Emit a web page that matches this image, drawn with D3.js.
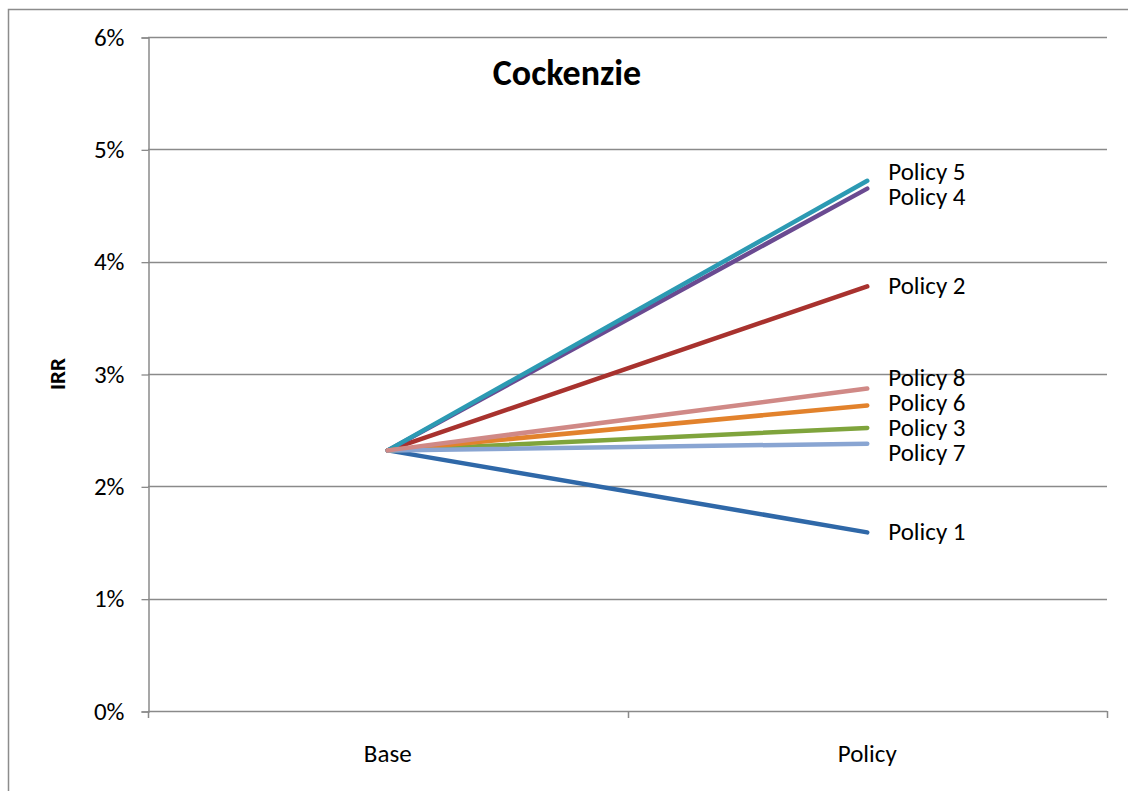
<!DOCTYPE html>
<html>
<head>
<meta charset="utf-8">
<script src="https://cdn.jsdelivr.net/npm/d3@7"></script>
<style>
  html, body { margin: 0; padding: 0; background: #fff; }
  svg { display: block; font-family: Carlito, Calibri, Lato, "Open Sans", sans-serif; }
</style>
</head>
<body>
<svg id="chart" width="1128" height="791"></svg>
<script>
// Scenario categories on the x axis
const categories = ["Base", "Policy"];

// Internal rate of return (%) per policy, base vs. policy case
const seriesNames = ["Policy 1", "Policy 2", "Policy 3", "Policy 4", "Policy 5", "Policy 6", "Policy 7", "Policy 8"];
const baseValues   = [2.32, 2.32, 2.32, 2.32, 2.32, 2.32, 2.32, 2.32];
const policyValues = [1.59, 3.78, 2.52, 4.65, 4.72, 2.72, 2.38, 2.87];

// Y-axis ticks (%)
const yTicks = [0, 1, 2, 3, 4, 5, 6];

const colors = ["#2f68a8", "#a8322e", "#7fa43c", "#6a4a91", "#2c9ab3", "#e2822c", "#89a5d2", "#d08986"];

const FONT = "Carlito, Calibri, Lato, sans-serif";
const svg = d3.select("#chart");
const W = 1128, H = 791;
const plot = { left: 148, right: 1107, top: 37, bottom: 711 };

// Chart frame
svg.append("path")
  .attr("d", `M8.5,${H} V9.5 H${W}`)
  .attr("fill", "none").attr("stroke", "#8c8c8c").attr("stroke-width", 1.5);

const y = d3.scaleLinear().domain([0, 6]).range([plot.bottom, plot.top]);
const band = d3.scaleBand().domain(categories).range([plot.left, plot.right]);
const x = d3.scalePoint().domain(categories).range([plot.left, plot.right]).padding(0.5);

// Horizontal gridlines
svg.append("g").selectAll("line").data(yTicks.filter(d => d > 0)).join("line")
  .attr("x1", plot.left).attr("x2", plot.right)
  .attr("y1", d => Math.round(y(d)) + 0.5).attr("y2", d => Math.round(y(d)) + 0.5)
  .attr("stroke", "#8a8a8a").attr("stroke-width", 1.3);

// Y axis
const yAxis = d3.axisLeft(y).tickValues(yTicks).tickFormat(d => d + "%").tickSize(7).tickPadding(17);
const gy = svg.append("g").attr("transform", `translate(${plot.left + 0.5},0.5)`).call(yAxis);
gy.attr("font-size", null).attr("font-family", null);
gy.select(".domain").attr("stroke", "#8a8a8a").attr("stroke-width", 1.5);
gy.selectAll(".tick line").attr("stroke", "#8a8a8a").attr("stroke-width", 1.3);
gy.selectAll(".tick text").attr("font-size", 25).attr("fill", "#000")
  .attr("font-family", FONT).attr("dy", "0.3em");

// X axis: baseline with tick marks on category boundaries
svg.append("line")
  .attr("x1", plot.left).attr("x2", plot.right)
  .attr("y1", plot.bottom + 0.5).attr("y2", plot.bottom + 0.5)
  .attr("stroke", "#8a8a8a").attr("stroke-width", 1.5);
const boundaries = categories.map(c => band(c)).concat([band(categories[categories.length - 1]) + band.bandwidth()]);
svg.append("g").selectAll("line").data(boundaries).join("line")
  .attr("x1", d => Math.round(d) + 0.5).attr("x2", d => Math.round(d) + 0.5)
  .attr("y1", plot.bottom).attr("y2", plot.bottom + 7)
  .attr("stroke", "#8a8a8a").attr("stroke-width", 1.5);
svg.append("g").selectAll("text").data(categories).join("text")
  .attr("x", d => x(d)).attr("y", 762)
  .attr("text-anchor", "middle").attr("font-size", 25).attr("fill", "#000")
  .text(d => d);

// Series lines
const series = seriesNames.map((name, i) => ({
  name, color: colors[i],
  values: [ { cat: categories[0], v: baseValues[i] }, { cat: categories[1], v: policyValues[i] } ]
}));
const line = d3.line().x(d => x(d.cat)).y(d => y(d.v));
svg.append("g").selectAll("path").data(series).join("path")
  .attr("d", d => line(d.values))
  .attr("fill", "none").attr("stroke", d => d.color)
  .attr("stroke-width", 4.5).attr("stroke-linecap", "round");

// End-of-line labels, spread apart so they don't overlap
const minGap = 25;
const labels = series.map(s => ({ name: s.name, target: y(s.values[1].v) }))
  .sort((a, b) => a.target - b.target);
labels.forEach(l => l.pos = l.target);
for (let iter = 0; iter < 200; iter++) {
  let moved = false;
  for (let i = 1; i < labels.length; i++) {
    const a = labels[i - 1], b = labels[i];
    const overlap = minGap - (b.pos - a.pos);
    if (overlap > 0.01) {
      a.pos -= overlap / 2; b.pos += overlap / 2; moved = true;
    }
  }
  if (!moved) break;
}
svg.append("g").selectAll("text").data(labels).join("text")
  .attr("x", x(categories[1]) + 21).attr("y", d => d.pos)
  .attr("dy", "0.3em").attr("font-size", 25).attr("fill", "#000")
  .text(d => d.name);

// Title
svg.append("text").attr("x", 567).attr("y", 85)
  .attr("text-anchor", "middle").attr("font-size", 36).attr("font-weight", "bold")
  .text("Cockenzie");

// Y-axis title
svg.append("text")
  .attr("transform", `translate(65,374) rotate(-90)`)
  .attr("text-anchor", "middle").attr("font-size", 23).attr("font-weight", "bold")
  .text("IRR");
</script>
</body>
</html>
